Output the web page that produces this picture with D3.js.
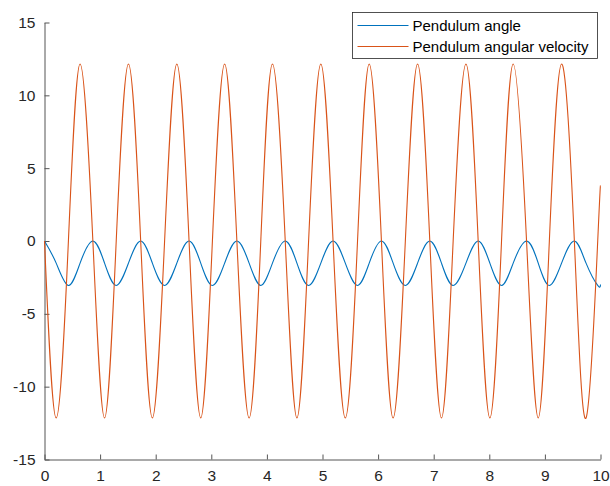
<!DOCTYPE html>
<html lang="en">
<head>
    <meta charset="UTF-8">
    <title>Pendulum</title>
    <script src="https://d3js.org/d3.v7.min.js"></script>
</head>
<body>
    <div class="chart"></div>
    <style>
        body { margin: 0; background: #fff; }
        .chart { width: 610px; height: 486px; }
        .chart text { font-family: "Liberation Sans", Arial, sans-serif; }
    </style>
    <script>
        // time points (extrema and zero crossings)
        const time = [0, 0.21, 0.43, 0.64, 0.87, 1.08, 1.29, 1.51, 1.73, 1.94, 2.16, 2.38,
                      2.60, 2.81, 3.02, 3.24, 3.46, 3.68, 3.89, 4.10, 4.33, 4.54, 4.75, 4.97,
                      5.19, 5.41, 5.63, 5.84, 6.06, 6.27, 6.49, 6.71, 6.93, 7.14, 7.35, 7.58,
                      7.80, 8.01, 8.22, 8.43, 8.67, 8.88, 9.08, 9.30, 9.53, 9.74, 9.95, 10]

        const angle = [0, -1.52, -3.05, -1.52, 0, -1.52, -3.05, -1.52, 0, -1.52, -3.05, -1.52,
                       0, -1.52, -3.05, -1.52, 0, -1.52, -3.05, -1.52, 0, -1.52, -3.05, -1.52,
                       0, -1.52, -3.05, -1.52, 0, -1.52, -3.05, -1.52, 0, -1.52, -3.05, -1.52,
                       0, -1.52, -3.05, -1.52, 0, -1.52, -3.05, -1.52, 0, -1.52, -3.05, -2.98]

        const velocity = [0, -12.15, 0, 12.15, 0, -12.15, 0, 12.15, 0, -12.15, 0, 12.15,
                          0, -12.15, 0, 12.15, 0, -12.15, 0, 12.15, 0, -12.15, 0, 12.15,
                          0, -12.15, 0, 12.15, 0, -12.15, 0, 12.15, 0, -12.15, 0, 12.15,
                          0, -12.15, 0, 12.15, 0, -12.15, 0, 12.15, 0, -12.15, 0, 3.8]

        const xTicks = [0, 1, 2, 3, 4, 5, 6, 7, 8, 9, 10]
        const yTicks = [-15, -10, -5, 0, 5, 10, 15]
        const seriesNames = ['Pendulum angle', 'Pendulum angular velocity']
        const seriesColors = ['#0072bd', '#d95319']

        const width = 610, height = 486
        const svg = d3.select('.chart').append('svg')
            .attr('width', width)
            .attr('height', height)

        const xScale = d3.scaleLinear().domain([0, 10]).range([44.5, 600.5])
        const yScale = d3.scaleLinear().domain([-15, 15]).range([459.5, 22.5])

        // axes, ticks point inward like matlab
        const xAxis = d3.axisBottom(xScale).tickValues(xTicks)
            .tickSizeInner(-5).tickSizeOuter(0).tickPadding(9)
        const yAxis = d3.axisLeft(yScale).tickValues(yTicks)
            .tickSizeInner(-5).tickSizeOuter(0).tickPadding(9)
            .tickFormat(d => String(d)) // plain hyphen minus like the original

        const gx = svg.append('g').attr('transform', `translate(0,${yScale(-15)})`).call(xAxis)
        const gy = svg.append('g').attr('transform', `translate(${xScale(0)},0)`).call(yAxis)

        ;[gx, gy].forEach(g => {
            g.select('.domain').attr('stroke', '#555')
            g.selectAll('.tick line').attr('stroke', '#555')
            g.selectAll('.tick text')
                .attr('fill', '#262626')
                .style('font-size', '15.5px')
                .style('font-family', '"Liberation Sans", Arial, sans-serif')
        })
        gx.selectAll('.tick text').attr('dy', '0.78em')

        const line = yValues => d3.line()
            .x((d, i) => xScale(time[i]))
            .y((d, i) => yScale(yValues[i]))
            .curve(d3.curveNatural)(yValues)

        // angular velocity drawn after angle so it sits on top
        svg.append('path')
            .attr('d', line(angle))
            .attr('fill', 'none')
            .attr('stroke', seriesColors[0])
            .attr('stroke-width', 1.1)

        svg.append('path')
            .attr('d', line(velocity))
            .attr('fill', 'none')
            .attr('stroke', seriesColors[1])
            .attr('stroke-width', 1.1)

        // legend
        const legend = svg.append('g').attr('transform', 'translate(352.5,12.5)')
        legend.append('rect')
            .attr('width', 245)
            .attr('height', 46)
            .attr('fill', '#fff')
            .attr('stroke', '#262626')
            .attr('stroke-width', 0.8)

        seriesNames.forEach((name, i) => {
            const row = legend.append('g').attr('transform', `translate(0,${13 + i * 21})`)
            row.append('line')
                .attr('x1', 5).attr('x2', 56)
                .attr('stroke', seriesColors[i])
                .attr('stroke-width', 1.1)
            row.append('text')
                .attr('x', 60)
                .attr('dy', '0.35em')
                .attr('fill', '#000')
                .style('font-size', '15px')
                .text(name)
        })
    </script>
</body>
</html>
